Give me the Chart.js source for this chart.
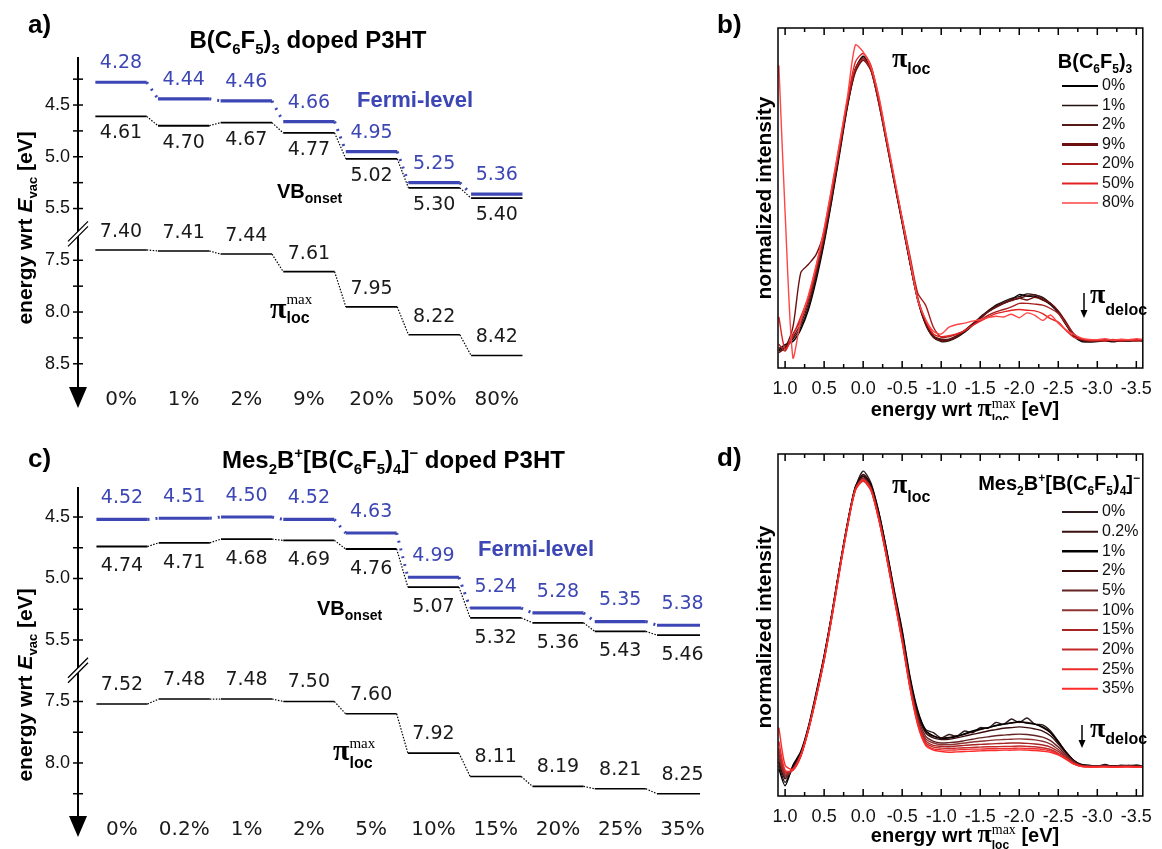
<!DOCTYPE html>
<html>
<head>
<meta charset="utf-8">
<script src="https://cdn.jsdelivr.net/npm/chart.js@4.4.1/dist/chart.umd.min.js"></script>
<style>
  body { margin: 0; background: #fff; width: 1162px; height: 849px; position: relative; overflow: hidden; }
  canvas { position: absolute; }
</style>
</head>
<body>
<canvas id="pa" width="600" height="420" style="left:0;top:0"></canvas>
<canvas id="pb" width="450" height="420" style="left:712px;top:0"></canvas>
<canvas id="pc" width="712" height="429" style="left:0;top:420px"></canvas>
<canvas id="pd" width="450" height="429" style="left:712px;top:420px"></canvas>
<script>
const SANS = '"Liberation Sans", Arial, sans-serif';
const SERIF = '"Liberation Serif", "Times New Roman", serif';
const VERD = '"DejaVu Sans", Verdana, sans-serif';
const BLUE = '#3c46b4';

// ---- panel a: B(C6F5)3 doped P3HT, energies in eV ----
const dopingA = ['0%', '1%', '2%', '9%', '20%', '50%', '80%'];
const fermiA = [4.28, 4.44, 4.46, 4.66, 4.95, 5.25, 5.36];
const vbA = [4.61, 4.70, 4.67, 4.77, 5.02, 5.30, 5.40];
const piA = [7.40, 7.41, 7.44, 7.61, 7.95, 8.22, 8.42];
const majorA = [4.5, 5.0, 5.5, 7.5, 8.0, 8.5];
const minorA = [4.25, 4.75, 5.25, 7.75, 8.25];

// ---- panel c: Mes2B+[B(C6F5)4]- doped P3HT ----
const dopingC = ['0%', '0.2%', '1%', '2%', '5%', '10%', '15%', '20%', '25%', '35%'];
const fermiC = [4.52, 4.51, 4.50, 4.52, 4.63, 4.99, 5.24, 5.28, 5.35, 5.38];
const vbC = [4.74, 4.71, 4.68, 4.69, 4.76, 5.07, 5.32, 5.36, 5.43, 5.46];
const piC = [7.52, 7.48, 7.48, 7.50, 7.60, 7.92, 8.11, 8.19, 8.21, 8.25];
const majorC = [4.5, 5.0, 5.5, 7.5, 8.0];
const minorC = [4.75, 5.25, 7.75, 8.25];

// ---- spectra (b, d): energy wrt pi_loc max, normalized intensity ----
const energy = [1.08, 1.0, 0.9, 0.8, 0.7, 0.6, 0.5, 0.4, 0.3, 0.2, 0.1, 0.0, -0.1, -0.2, -0.3, -0.4, -0.5, -0.6, -0.7, -0.8, -0.9, -1.0, -1.1, -1.2, -1.3, -1.4, -1.5, -1.6, -1.7, -1.8, -1.9, -2.0, -2.1, -2.2, -2.3, -2.4, -2.5, -2.6, -2.7, -2.8, -2.9, -3.0, -3.1, -3.2, -3.3, -3.4, -3.5, -3.58];
const energyTicks = [1.0, 0.5, 0.0, -0.5, -1.0, -1.5, -2.0, -2.5, -3.0, -3.5];

const labelsB = ['0%', '1%', '2%', '9%', '20%', '50%', '80%'];
const colorsB = ['#000000', '#231010', '#571818', '#6b0f0f', '#a81e1e', '#e42222', '#ff4545'];
const legendWidthB = [2, 1.5, 2, 3, 2, 2, 1.5];
const b0 = [0.054, 0.069, 0.078, 0.113, 0.172, 0.26, 0.368, 0.495, 0.632, 0.77,
  0.877, 0.917, 0.877, 0.779, 0.662, 0.544, 0.426, 0.309, 0.201, 0.132,
  0.093, 0.083, 0.083, 0.093, 0.108, 0.127, 0.147, 0.167, 0.181, 0.191,
  0.201, 0.216, 0.211, 0.211, 0.201, 0.186, 0.162, 0.127, 0.093, 0.078,
  0.078, 0.08, 0.082, 0.079, 0.081, 0.08, 0.082, 0.08];
const b1 = [0.05, 0.062, 0.085, 0.12, 0.18, 0.27, 0.375, 0.5, 0.64, 0.775,
  0.88, 0.915, 0.885, 0.79, 0.67, 0.55, 0.43, 0.31, 0.2, 0.128,
  0.09, 0.078, 0.08, 0.09, 0.105, 0.125, 0.15, 0.168, 0.185, 0.195,
  0.205, 0.21, 0.218, 0.215, 0.208, 0.19, 0.165, 0.13, 0.095, 0.08,
  0.076, 0.078, 0.08, 0.077, 0.08, 0.079, 0.081, 0.079];
const b2 = [0.06, 0.058, 0.09, 0.13, 0.19, 0.28, 0.385, 0.51, 0.645, 0.78,
  0.875, 0.91, 0.88, 0.785, 0.67, 0.55, 0.435, 0.315, 0.205, 0.135,
  0.095, 0.085, 0.085, 0.095, 0.11, 0.13, 0.148, 0.165, 0.178, 0.19,
  0.2, 0.205, 0.212, 0.215, 0.205, 0.19, 0.165, 0.13, 0.095, 0.082,
  0.08, 0.08, 0.083, 0.08, 0.082, 0.08, 0.083, 0.081];
const b9 = [0.045, 0.06, 0.12, 0.28, 0.305, 0.335, 0.4, 0.515, 0.645, 0.775,
  0.87, 0.905, 0.875, 0.785, 0.665, 0.545, 0.43, 0.31, 0.2, 0.13,
  0.09, 0.08, 0.082, 0.092, 0.11, 0.128, 0.145, 0.165, 0.18, 0.19,
  0.198, 0.205, 0.2, 0.208, 0.2, 0.19, 0.168, 0.135, 0.1, 0.083,
  0.079, 0.081, 0.08, 0.082, 0.079, 0.081, 0.08, 0.082];
const b20 = [0.07, 0.05, 0.1, 0.14, 0.2, 0.29, 0.39, 0.515, 0.65, 0.785,
  0.88, 0.91, 0.875, 0.78, 0.665, 0.55, 0.44, 0.33, 0.22, 0.185,
  0.12, 0.09, 0.092, 0.1, 0.11, 0.125, 0.14, 0.155, 0.165, 0.172,
  0.18, 0.19, 0.19, 0.188, 0.185, 0.175, 0.16, 0.13, 0.1, 0.085,
  0.08, 0.08, 0.082, 0.081, 0.08, 0.082, 0.08, 0.081];
const b50 = [0.15, 0.055, 0.095, 0.15, 0.21, 0.3, 0.405, 0.53, 0.66, 0.79,
  0.9, 0.925, 0.89, 0.795, 0.675, 0.555, 0.435, 0.315, 0.205, 0.14,
  0.1, 0.092, 0.095, 0.1, 0.11, 0.125, 0.138, 0.15, 0.16, 0.165,
  0.17, 0.172, 0.17, 0.168, 0.16, 0.145, 0.135, 0.11, 0.09, 0.085,
  0.082, 0.083, 0.08, 0.084, 0.081, 0.083, 0.082, 0.084];
const b80 = [0.89, 0.457, 0.03, 0.14, 0.215, 0.305, 0.41, 0.535, 0.665, 0.8,
  0.95, 0.93, 0.885, 0.8, 0.68, 0.56, 0.44, 0.32, 0.2, 0.143,
  0.108, 0.1, 0.12, 0.128, 0.132, 0.138, 0.142, 0.148, 0.152, 0.15,
  0.158, 0.148, 0.162, 0.155, 0.14, 0.156, 0.132, 0.112, 0.098, 0.088,
  0.084, 0.083, 0.086, 0.082, 0.085, 0.083, 0.086, 0.084];
const seriesB = [b0, b1, b2, b9, b20, b50, b80];

const labelsD = ['0%', '0.2%', '1%', '2%', '5%', '10%', '15%', '20%', '25%', '35%'];
const colorsD = ['#2e1b1b', '#3b0f0f', '#000000', '#3a0c0c', '#652222', '#8e3434', '#a82424', '#c42a2a', '#ee2c2c', '#ff2b2b'];
const legendWidthD = [2, 2, 2.5, 2, 2, 2, 2, 2, 2, 2];
const d0 = [0.09, 0.04, 0.085, 0.125, 0.2, 0.3, 0.41, 0.535, 0.67, 0.8,
  0.9, 0.95, 0.915, 0.83, 0.72, 0.595, 0.48, 0.345, 0.245, 0.195,
  0.185, 0.17, 0.18, 0.175, 0.19, 0.185, 0.2, 0.198, 0.215, 0.21,
  0.225, 0.215, 0.228, 0.21, 0.208, 0.19, 0.16, 0.128, 0.104, 0.092,
  0.09, 0.087, 0.092, 0.086, 0.09, 0.088, 0.091, 0.088];
const d02 = [0.1, 0.06, 0.08, 0.12, 0.198, 0.295, 0.405, 0.53, 0.668, 0.795,
  0.902, 0.94, 0.91, 0.825, 0.715, 0.59, 0.472, 0.335, 0.24, 0.19,
  0.176, 0.17, 0.171, 0.176, 0.18, 0.188, 0.194, 0.2, 0.205, 0.21,
  0.213, 0.216, 0.215, 0.21, 0.2, 0.185, 0.157, 0.128, 0.104, 0.091,
  0.088, 0.088, 0.089, 0.087, 0.088, 0.089, 0.087, 0.088];
const d1 = [0.08, 0.03, 0.09, 0.13, 0.205, 0.305, 0.41, 0.535, 0.672, 0.798,
  0.905, 0.935, 0.91, 0.83, 0.72, 0.6, 0.485, 0.35, 0.25, 0.192,
  0.175, 0.168, 0.17, 0.174, 0.182, 0.19, 0.196, 0.2, 0.206, 0.21,
  0.214, 0.218, 0.213, 0.21, 0.202, 0.186, 0.158, 0.128, 0.103, 0.09,
  0.088, 0.087, 0.089, 0.088, 0.087, 0.089, 0.088, 0.087];
const d2 = [0.1, 0.05, 0.082, 0.122, 0.2, 0.298, 0.405, 0.532, 0.67, 0.796,
  0.9, 0.935, 0.905, 0.822, 0.712, 0.59, 0.47, 0.335, 0.236, 0.185,
  0.17, 0.165, 0.166, 0.17, 0.175, 0.18, 0.185, 0.19, 0.194, 0.198,
  0.2, 0.202, 0.2, 0.196, 0.19, 0.176, 0.152, 0.125, 0.102, 0.09,
  0.088, 0.088, 0.088, 0.087, 0.088, 0.088, 0.087, 0.088];
const d5 = [0.11, 0.055, 0.08, 0.12, 0.198, 0.296, 0.402, 0.53, 0.668, 0.795,
  0.9, 0.93, 0.9, 0.818, 0.708, 0.585, 0.465, 0.33, 0.23, 0.175,
  0.16, 0.155, 0.156, 0.158, 0.162, 0.166, 0.17, 0.173, 0.176, 0.178,
  0.18, 0.181, 0.18, 0.177, 0.172, 0.162, 0.143, 0.12, 0.1, 0.089,
  0.087, 0.087, 0.088, 0.087, 0.087, 0.088, 0.087, 0.087];
const d10 = [0.12, 0.06, 0.078, 0.118, 0.196, 0.295, 0.4, 0.528, 0.666, 0.793,
  0.898, 0.928, 0.9, 0.815, 0.705, 0.582, 0.46, 0.325, 0.222, 0.168,
  0.155, 0.15, 0.15, 0.152, 0.155, 0.158, 0.16, 0.162, 0.164, 0.165,
  0.166, 0.167, 0.166, 0.164, 0.16, 0.152, 0.136, 0.116, 0.098, 0.088,
  0.087, 0.087, 0.087, 0.086, 0.087, 0.087, 0.086, 0.087];
const d15 = [0.13, 0.065, 0.078, 0.118, 0.195, 0.293, 0.4, 0.526, 0.664, 0.792,
  0.896, 0.925, 0.898, 0.812, 0.702, 0.58, 0.458, 0.322, 0.218, 0.162,
  0.148, 0.145, 0.144, 0.146, 0.148, 0.15, 0.151, 0.152, 0.153, 0.154,
  0.155, 0.155, 0.154, 0.152, 0.149, 0.143, 0.13, 0.113, 0.097, 0.088,
  0.086, 0.086, 0.087, 0.086, 0.086, 0.087, 0.086, 0.086];
const d20 = [0.14, 0.07, 0.076, 0.116, 0.194, 0.292, 0.398, 0.525, 0.662, 0.79,
  0.895, 0.922, 0.895, 0.81, 0.7, 0.578, 0.455, 0.32, 0.214, 0.156,
  0.143, 0.14, 0.139, 0.14, 0.141, 0.142, 0.143, 0.144, 0.144, 0.145,
  0.145, 0.146, 0.145, 0.144, 0.141, 0.136, 0.125, 0.11, 0.095, 0.087,
  0.086, 0.086, 0.086, 0.085, 0.086, 0.086, 0.085, 0.086];
const d25 = [0.16, 0.075, 0.075, 0.115, 0.193, 0.29, 0.396, 0.522, 0.66, 0.788,
  0.893, 0.92, 0.893, 0.808, 0.698, 0.575, 0.452, 0.317, 0.21, 0.152,
  0.138, 0.135, 0.134, 0.135, 0.136, 0.137, 0.137, 0.138, 0.138, 0.139,
  0.139, 0.14, 0.139, 0.138, 0.136, 0.132, 0.122, 0.108, 0.094, 0.087,
  0.085, 0.085, 0.086, 0.085, 0.085, 0.086, 0.085, 0.085];
const d35 = [0.2, 0.09, 0.078, 0.12, 0.195, 0.29, 0.398, 0.525, 0.662, 0.79,
  0.895, 0.925, 0.895, 0.81, 0.698, 0.575, 0.45, 0.315, 0.207, 0.148,
  0.134, 0.13, 0.128, 0.129, 0.13, 0.131, 0.132, 0.133, 0.133, 0.134,
  0.134, 0.135, 0.134, 0.133, 0.131, 0.128, 0.12, 0.107, 0.093, 0.086,
  0.085, 0.085, 0.085, 0.084, 0.085, 0.085, 0.084, 0.085];
const seriesD = [d0, d02, d1, d2, d5, d10, d15, d20, d25, d35];

// axis break: 5.5 .. 7.5 eV is squeezed into half a volt
function brk(v) { return v > 6.5 ? v - 1.5 : v; }
function unbrk(t) { return t > 5.75 ? t + 1.5 : t; }

// --- rich text (sub/superscripts) ---
const T = (t, o) => Object.assign({ t }, o || {});
function partFont(p, size) {
  const k = (p.s === 'sub' || p.s === 'sup') ? 0.62 : 1;
  return (p.it ? 'italic ' : '') + (p.w || 'bold') + ' ' + Math.round(size * k * (p.k || 1)) + 'px ' + (p.f || SANS);
}
function drawRich(ctx, parts, x, y, size, align, color) {
  ctx.save();
  ctx.fillStyle = color || '#000';
  ctx.textBaseline = 'alphabetic';
  ctx.textAlign = 'left';
  const ws = parts.map(p => { ctx.font = partFont(p, size); return ctx.measureText(p.t).width; });
  let total = 0, held = 0;
  parts.forEach((p, i) => { if (p.hold) held = ws[i]; else { total += Math.max(ws[i], held); held = 0; } });
  let cx = align === 'center' ? x - total / 2 : align === 'right' ? x - total : x;
  held = 0;
  parts.forEach((p, i) => {
    ctx.font = partFont(p, size);
    const dy = p.s === 'sub' ? size * 0.25 : p.s === 'sup' ? -size * 0.42 : 0;
    ctx.fillText(p.t, cx, y + dy + (p.dy || 0));
    if (p.hold) held = ws[i]; else { cx += Math.max(ws[i], held); held = 0; }
  });
  ctx.restore();
}
function drawRotated(ctx, parts, x, y, size) {
  ctx.save();
  ctx.translate(x, y);
  ctx.rotate(-Math.PI / 2);
  drawRich(ctx, parts, 0, 0, size, 'center');
  ctx.restore();
}
function letter(ctx, s, x, y) {
  ctx.save();
  ctx.font = 'bold 26px ' + SANS;
  ctx.fillStyle = '#000';
  ctx.textBaseline = 'alphabetic';
  ctx.fillText(s, x, y);
  ctx.restore();
}

const yTitle = [T('energy wrt '), T('E', { it: true }), T('vac', { s: 'sub' }), T(' [eV]')];
const xTitle = [T('energy wrt '), T('\u03c0', { f: SERIF, k: 1.3 }), T('max', { s: 'sup', f: SERIF, w: 'normal', k: 1.1, hold: true }), T('loc', { s: 'sub', dy: 2 }), T(' [eV]')];

// --- energy level diagrams ---
const HALF = 0.41;
function levelSet(vals, color, width, dash, dashW) {
  const pts = [];
  vals.forEach((v, i) => { pts.push({ x: i - HALF, y: brk(v) }, { x: i + HALF, y: brk(v) }); });
  return {
    data: pts, borderColor: color, borderWidth: width, pointRadius: 0, tension: 0, fill: false,
    segment: {
      borderDash: c => c.p0DataIndex % 2 ? dash : undefined,
      borderWidth: c => c.p0DataIndex % 2 ? dashW : undefined
    }
  };
}

function levelChart(id, P) {
  const plugin = {
    id: 'levels',
    afterDraw(chart) {
      const ctx = chart.ctx, ys = chart.scales.y, xs = chart.scales.x, ca = chart.chartArea;
      const ax = ca.left + 1;
      const tip = ca.bottom + P.arrow;
      ctx.save();
      ctx.strokeStyle = '#000';
      ctx.fillStyle = '#000';
      ctx.lineWidth = 2;
      ctx.beginPath(); ctx.moveTo(ax, ca.top); ctx.lineTo(ax, tip - 12); ctx.stroke();
      ctx.beginPath(); ctx.moveTo(ax - 9, tip - 21); ctx.lineTo(ax + 9, tip - 21); ctx.lineTo(ax, tip); ctx.closePath(); ctx.fill();
      ctx.lineWidth = 1.5;
      P.major.concat(P.minor).forEach(v => {
        const y = ys.getPixelForValue(brk(v));
        ctx.beginPath(); ctx.moveTo(ax - 5, y); ctx.lineTo(ax + 5, y); ctx.stroke();
      });
      const yb = ys.getPixelForValue(5.75);
      ctx.fillStyle = '#fff';
      ctx.beginPath();
      ctx.moveTo(ax - 10, yb + 7); ctx.lineTo(ax + 10, yb - 13); ctx.lineTo(ax + 10, yb - 8); ctx.lineTo(ax - 10, yb + 12);
      ctx.closePath(); ctx.fill();
      ctx.lineWidth = 1.3;
      ctx.beginPath();
      ctx.moveTo(ax - 10, yb + 7); ctx.lineTo(ax + 10, yb - 13);
      ctx.moveTo(ax - 10, yb + 12); ctx.lineTo(ax + 10, yb - 8);
      ctx.stroke();

      ctx.font = '19px ' + VERD;
      ctx.textAlign = 'center';
      ctx.textBaseline = 'middle';
      P.rows.forEach(r => {
        ctx.fillStyle = r.color;
        r.vals.forEach((v, i) => ctx.fillText(v.toFixed(2), xs.getPixelForValue(i), ys.getPixelForValue(brk(v)) + r.off));
      });
      ctx.restore();
      P.texts(ctx);
    }
  };
  return new Chart(document.getElementById(id), {
    type: 'line',
    data: {
      datasets: [
        levelSet(P.rows[0].vals, BLUE, 3.2, [2, 6], 3),
        levelSet(P.rows[1].vals, '#000', 1.8, [1.5, 1.5], 1.2),
        levelSet(P.rows[2].vals, '#000', 1.6, [1.5, 1.5], 1.2)
      ]
    },
    options: {
      responsive: false,
      animation: false,
      devicePixelRatio: 1,
      layout: { padding: { top: P.top, right: P.right, left: 0, bottom: 0 } },
      plugins: { legend: { display: false }, tooltip: { enabled: false } },
      scales: {
        x: {
          type: 'linear', min: P.xMin, max: P.xMax,
          afterFit: s => { s.height = P.xh; },
          afterBuildTicks: s => { s.ticks = P.cats.map((c, i) => ({ value: i })); },
          ticks: { callback: v => P.cats[v], font: { family: VERD, size: 20 }, color: '#1a1a1a', padding: 3, autoSkip: false, maxRotation: 0 },
          grid: { display: false, drawTicks: false },
          border: { display: false }
        },
        y: {
          type: 'linear', reverse: true, min: P.yMin, max: P.yMax,
          afterFit: s => { s.width = 77; },
          afterBuildTicks: s => { s.ticks = P.major.map(v => ({ value: brk(v) })); },
          ticks: { callback: v => unbrk(v).toFixed(1), font: { family: SANS, size: 18 }, color: '#111', padding: 7 },
          grid: { display: false, drawTicks: false },
          border: { display: false }
        }
      }
    },
    plugins: [plugin]
  });
}

levelChart('pa', {
  cats: dopingA, top: 57, right: 60, xh: 35, arrow: 23,
  xMin: -0.703, xMax: 6.69, yMin: 4.036, yMax: 7.205,
  major: majorA, minor: minorA,
  rows: [
    { vals: fermiA, color: BLUE, off: -19 },
    { vals: vbA, color: '#1a1a1a', off: 17 },
    { vals: piA, color: '#1a1a1a', off: -18 }
  ],
  texts(ctx) {
    letter(ctx, 'a)', 28, 33);
    drawRich(ctx, [T('B(C'), T('6', { s: 'sub' }), T('F'), T('5', { s: 'sub' }), T(')'), T('3', { s: 'sub' }), T(' doped P3HT')], 308, 48, 24, 'center');
    drawRotated(ctx, yTitle, 32, 228, 21);
    drawRich(ctx, [T('Fermi-level')], 357, 107, 22, 'left', BLUE);
    drawRich(ctx, [T('VB'), T('onset', { s: 'sub', k: 1.15 })], 277, 198, 20, 'left');
    drawRich(ctx, [T('\u03c0', { f: SERIF, k: 1.5 }), T('max', { s: 'sup', f: SERIF, w: 'normal', k: 1.2, dy: -6, hold: true }), T('loc', { s: 'sub', k: 1.3 })], 270, 318, 20, 'left');
  }
});

levelChart('pc', {
  cats: dopingC, top: 67, right: 12, xh: 34, arrow: 22,
  xMin: -0.722, xMax: 9.28, yMin: 4.256, yMax: 6.923,
  major: majorC, minor: minorC,
  rows: [
    { vals: fermiC, color: BLUE, off: -21 },
    { vals: vbC, color: '#1a1a1a', off: 20 },
    { vals: piC, color: '#1a1a1a', off: -19 }
  ],
  texts(ctx) {
    letter(ctx, 'c)', 28, 47);
    drawRich(ctx, [T('Mes'), T('2', { s: 'sub' }), T('B'), T('+', { s: 'sup' }), T('[B(C'), T('6', { s: 'sub' }), T('F'), T('5', { s: 'sub' }), T(')'), T('4', { s: 'sub' }), T(']'), T('\u2212', { s: 'sup' }), T(' doped P3HT')], 222, 48, 24, 'left');
    drawRotated(ctx, yTitle, 32, 265, 21);
    drawRich(ctx, [T('Fermi-level')], 478, 136, 22, 'left', BLUE);
    drawRich(ctx, [T('VB'), T('onset', { s: 'sub', k: 1.15 })], 317, 195, 20, 'left');
    drawRich(ctx, [T('\u03c0', { f: SERIF, k: 1.5 }), T('max', { s: 'sup', f: SERIF, w: 'normal', k: 1.2, dy: -4, hold: true }), T('loc', { s: 'sub', k: 1.3, dy: 3 })], 333, 340, 20, 'left');
  }
});

// --- spectra ---
function specChart(id, P) {
  const plugin = {
    id: 'spec',
    afterDraw(chart) {
      const ctx = chart.ctx, ca = chart.chartArea, xs = chart.scales.x;
      ctx.save();
      ctx.strokeStyle = '#000';
      ctx.lineWidth = 1.5;
      ctx.strokeRect(ca.left, ca.top, ca.right - ca.left, ca.bottom - ca.top);
      for (let k = -14; k <= 4; k++) {
        const x = xs.getPixelForValue(k * 0.25);
        const len = k % 2 ? 4 : 7;
        ctx.beginPath();
        ctx.moveTo(x, ca.top); ctx.lineTo(x, ca.top + len);
        ctx.moveTo(x, ca.bottom); ctx.lineTo(x, ca.bottom - len);
        ctx.stroke();
      }
      chart.data.datasets.forEach((d, i) => {
        const y = P.legY + i * P.legDy;
        ctx.strokeStyle = d.borderColor;
        ctx.lineWidth = d.legendWidth;
        ctx.beginPath(); ctx.moveTo(350, y); ctx.lineTo(386, y); ctx.stroke();
        ctx.fillStyle = '#111';
        ctx.font = '16px ' + SANS;
        ctx.textBaseline = 'middle';
        ctx.textAlign = 'left';
        ctx.fillText(d.label, 390, y);
      });
      // pi_deloc arrow
      ctx.strokeStyle = '#000';
      ctx.fillStyle = '#000';
      ctx.lineWidth = 1.5;
      ctx.beginPath(); ctx.moveTo(P.arX, P.arY0); ctx.lineTo(P.arX, P.arY1 - 6); ctx.stroke();
      ctx.beginPath(); ctx.moveTo(P.arX - 3.5, P.arY1 - 8); ctx.lineTo(P.arX + 3.5, P.arY1 - 8); ctx.lineTo(P.arX, P.arY1); ctx.closePath(); ctx.fill();
      ctx.restore();
      P.texts(ctx);
      drawRotated(ctx, [T('normalized intensity')], 59, P.yTitleY, 21);
      drawRich(ctx, xTitle, 253, P.xTitleY, 20, 'center');
    }
  };
  const datasets = P.series.map((vals, i) => ({
    label: P.labels[i],
    data: energy.map((e, j) => ({ x: e, y: vals[j] })),
    borderColor: P.colors[i],
    borderWidth: 1.4,
    legendWidth: P.legendWidths[i],
    pointRadius: 0,
    tension: 0.25,
    fill: false,
    order: P.series.length - i
  }));
  return new Chart(document.getElementById(id), {
    type: 'line',
    data: { datasets },
    options: {
      responsive: false,
      animation: false,
      devicePixelRatio: 1,
      layout: { padding: { top: P.top, right: 9, left: 66, bottom: 0 } },
      plugins: { legend: { display: false }, tooltip: { enabled: false } },
      scales: {
        x: {
          type: 'linear', reverse: true, min: -3.583, max: 1.091,
          afterFit: s => { s.height = P.xh; },
          afterBuildTicks: s => { s.ticks = energyTicks.map(v => ({ value: v })); },
          ticks: { callback: v => v.toFixed(1), font: { family: SANS, size: 18 }, color: '#111', padding: 10, autoSkip: false, maxRotation: 0 },
          grid: { display: false, drawTicks: false },
          border: { display: false }
        },
        y: { display: false, min: 0, max: 1 }
      }
    },
    plugins: [plugin]
  });
}

const piLoc = (dy) => [T('\u03c0', { f: SERIF, k: 1.4 }), T('loc', { s: 'sub', k: 1.3, dy })];
const piDeloc = (dy) => [T('\u03c0', { f: SERIF, k: 1.4 }), T('deloc', { s: 'sub', k: 1.3, dy })];

specChart('pb', {
  series: seriesB, labels: labelsB, colors: colorsB, legendWidths: legendWidthB,
  top: 28, xh: 52, legY: 86, legDy: 19.5,
  arX: 372, arY0: 293, arY1: 318,
  yTitleY: 198, xTitleY: 416,
  texts(ctx) {
    letter(ctx, 'b)', 5, 33);
    drawRich(ctx, [T('B(C'), T('6', { s: 'sub' }), T('F'), T('5', { s: 'sub' }), T(')'), T('3', { s: 'sub' })], 383, 68, 20, 'center');
    drawRich(ctx, piLoc(2), 180, 67, 20, 'left');
    drawRich(ctx, piDeloc(7), 378, 303, 20, 'left');
  }
});

specChart('pd', {
  series: seriesD, labels: labelsD, colors: colorsD, legendWidths: legendWidthD,
  top: 34, xh: 53, legY: 92, legDy: 19.65,
  arX: 370, arY0: 305, arY1: 328,
  yTitleY: 207, xTitleY: 422,
  texts(ctx) {
    letter(ctx, 'd)', 5, 46);
    drawRich(ctx, [T('Mes'), T('2', { s: 'sub' }), T('B'), T('+', { s: 'sup' }), T('[B(C'), T('6', { s: 'sub' }), T('F'), T('5', { s: 'sub' }), T(')'), T('4', { s: 'sub' }), T(']'), T('\u2212', { s: 'sup' })], 428, 70, 20, 'right');
    drawRich(ctx, piLoc(4), 180, 73, 20, 'left');
    drawRich(ctx, piDeloc(2), 378, 317, 20, 'left');
  }
});
</script>
</body>
</html>
